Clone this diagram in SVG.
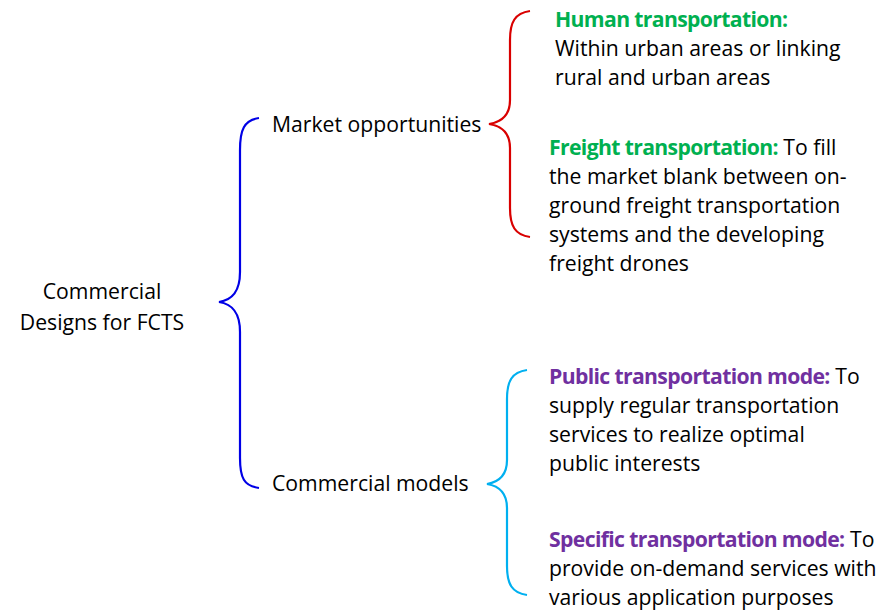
<svg xmlns="http://www.w3.org/2000/svg" width="883" height="612" viewBox="0 0 883 612">
<style>
text{font-family:"Open Sans","Noto Sans","Liberation Sans",sans-serif;font-size:21.2px;fill:#000}
.b{font-weight:bold;letter-spacing:-0.65px}
.g{fill:#00B050}
.p{fill:#7030A0}
.br{fill:none;stroke-width:2.2}
</style>
<rect width="883" height="612" fill="#fff"/>
<g id="connectors">
<path class="br" stroke="#0000E6" d="M259,118 C244,120 240,130 240,150 L240,272 C240,292 232,300 219,302 C232,304 240,312 240,332 L240,458 C240,478 244,486 259,488"/>
<path class="br" stroke="#D90000" d="M530,11 C515,13 510,22 510,40 L510,100 C510,115 502,122 489,124 C502,126 510,133 510,148 L510,208 C510,226 515,235 530,237"/>
<path class="br" stroke="#00B0F0" d="M527,370 C512,372 507,381 507,399 L507,460 C507,475 499,482 487,484 C499,486 507,493 507,508 L507,566 C507,584 512,593 527,595"/>
</g>
<g id="root"><text x="102" y="299" text-anchor="middle">Commercial</text><text x="102" y="330" text-anchor="middle">Designs for FCTS</text></g>
<g id="market"><text x="272" y="132">Market opportunities</text></g>
<g id="commercial"><text x="272" y="491">Commercial models</text></g>
<g id="human"><text x="555" y="27"><tspan class="b g">Human transportation:</tspan></text><text x="555" y="56">Within urban areas or linking</text><text x="555" y="85">rural and urban areas</text></g>
<g id="freight"><text x="549" y="155"><tspan class="b g">Freight transportation:</tspan> To fill</text><text x="549" y="184">the market blank between on-</text><text x="549" y="213">ground freight transportation</text><text x="549" y="242">systems and the developing</text><text x="549" y="271">freight drones</text></g>
<g id="public"><text x="549" y="384"><tspan class="b p">Public transportation mode:</tspan> To</text><text x="549" y="413">supply regular transportation</text><text x="549" y="442">services to realize optimal</text><text x="549" y="471">public interests</text></g>
<g id="specific"><text x="549" y="547"><tspan class="b p">Specific transportation mode:</tspan> To</text><text x="549" y="576">provide on-demand services with</text><text x="549" y="605">various application purposes</text></g>
</svg>
